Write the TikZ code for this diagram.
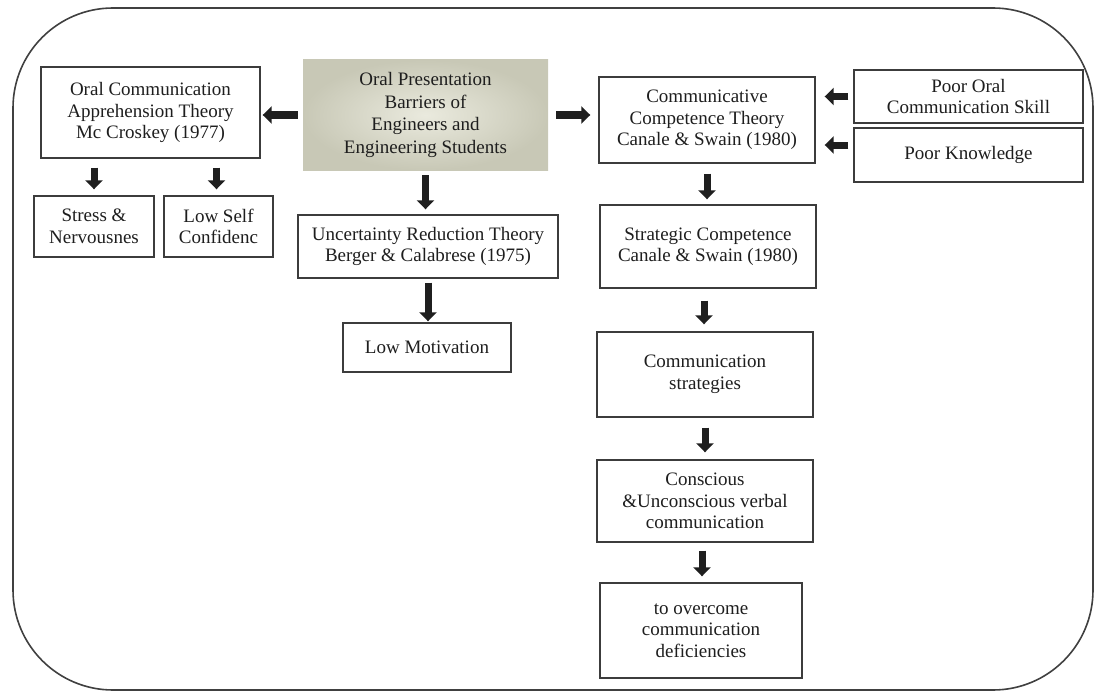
\documentclass[tikz,border=0pt]{standalone}
\usepackage{fontspec}
\setmainfont{Liberation Serif}
\usetikzlibrary{arrows.meta,calc}
\definecolor{boxline}{RGB}{60,60,60}
\definecolor{txt}{RGB}{30,30,30}
\definecolor{cenin}{RGB}{234,234,222}
\definecolor{cenout}{RGB}{200,200,182}
\tikzset{
  bx/.style={draw=boxline, line width=1.4pt, fill=white, align=center, text=txt,
    inner sep=0pt, font=\fontsize{19}{21.5}\selectfont},
  cenbox/.style={inner color=cenin, outer color=cenout, align=center, text=txt,
    inner sep=0pt, font=\fontsize{19}{22.5}\selectfont},
  blk/.style={line width=7pt, draw=black!88, -{Triangle[length=9pt,width=17pt]}},
}
\begin{document}
\begin{tikzpicture}[x=1pt,y=-1pt]
\useasboundingbox (0,0) rectangle (1096,693);
\draw[line width=1.6pt, draw=black!75, rounded corners=100pt] (13,8) rectangle (1093,690);

\node[bx, minimum width=219pt, minimum height=91pt] (oca) at (150.5,112.5)
  {Oral Communication\\Apprehension Theory\\Mc Croskey (1977)};
\node[cenbox, minimum width=245pt, minimum height=110pt] (cen) at (425.5,115)
  {Oral Presentation\\Barriers of\\Engineers and\\Engineering Students};
\node[bx, minimum width=120pt, minimum height=61pt] (stress) at (94,226.5)
  {Stress \&\\Nervousnes};
\node[bx, minimum width=109pt, minimum height=61pt] (lowself) at (218.5,226.5)
  {Low Self\\Confidenc};
\node[bx, minimum width=260pt, minimum height=63pt] (urt) at (428,246.5)
  {Uncertainty Reduction Theory\\Berger \& Calabrese (1975)};
\node[bx, minimum width=168pt, minimum height=49pt] (lm) at (427,347.5)
  {Low Motivation};
\node[bx, minimum width=216pt, minimum height=86pt] (cct) at (707,120)
  {Communicative\\Competence Theory\\Canale \& Swain (1980)};
\node[bx, minimum width=229pt, minimum height=53pt] (pocs) at (968.5,96.5)
  {Poor Oral\\Communication Skill};
\node[bx, minimum width=229pt, minimum height=54pt] (pk) at (968.5,155)
  {Poor Knowledge};
\node[bx, minimum width=216pt, minimum height=83pt] (sc) at (708,246.5)
  {Strategic Competence\\Canale \& Swain (1980)};
\node[bx, minimum width=216pt, minimum height=85pt] (cs) at (705,374.5)
  {Communication\\strategies};
\node[bx, minimum width=216pt, minimum height=82pt] (con) at (705,501)
  {Conscious\\\&Unconscious verbal\\communication};
\node[bx, minimum width=202pt, minimum height=95pt] (ovc) at (701,630.5)
  {to overcome\\communication\\deficiencies};

% arrows
\draw[blk, shorten <=5pt, shorten >=2pt] (cen.west) -- (cen.west -| oca.east);
\draw[blk, shorten <=8pt, shorten >=8pt] (cen.east) -- (cen.east -| cct.west);
\draw[blk, shorten <=9pt, shorten >=6pt] (stress.north |- oca.south) -- (stress.north);
\draw[blk, shorten <=9pt, shorten >=6pt] ([xshift=-2pt]lowself.north |- oca.south) -- ([xshift=-2pt]lowself.north);
\draw[blk, shorten <=5pt, shorten >=5pt] (cen.south) -- (cen.south |- urt.north);
\draw[blk, shorten <=4pt, shorten >=1pt] (urt.south) -- (urt.south |- lm.north);
\draw[blk, shorten <=5pt, shorten >=9pt] (pocs.west) -- (pocs.west -| cct.east);
\draw[blk, shorten <=5pt, shorten >=9pt] ([yshift=10pt]pk.west) -- ([yshift=10pt]pk.west -| cct.east);
\draw[blk, shorten <=10pt, shorten >=5pt] (cct.south) -- (cct.south |- sc.north);
\draw[blk, shorten <=12pt, shorten >=7pt] ([xshift=-4pt]sc.south) -- ([xshift=-4pt]sc.south |- cs.north);
\draw[blk, shorten <=10pt, shorten >=7pt] (cs.south) -- (cs.south |- con.north);
\draw[blk, shorten <=8pt, shorten >=6pt] ([xshift=-3pt]con.south) -- ([xshift=-3pt]con.south |- ovc.north);
\end{tikzpicture}
\end{document}
